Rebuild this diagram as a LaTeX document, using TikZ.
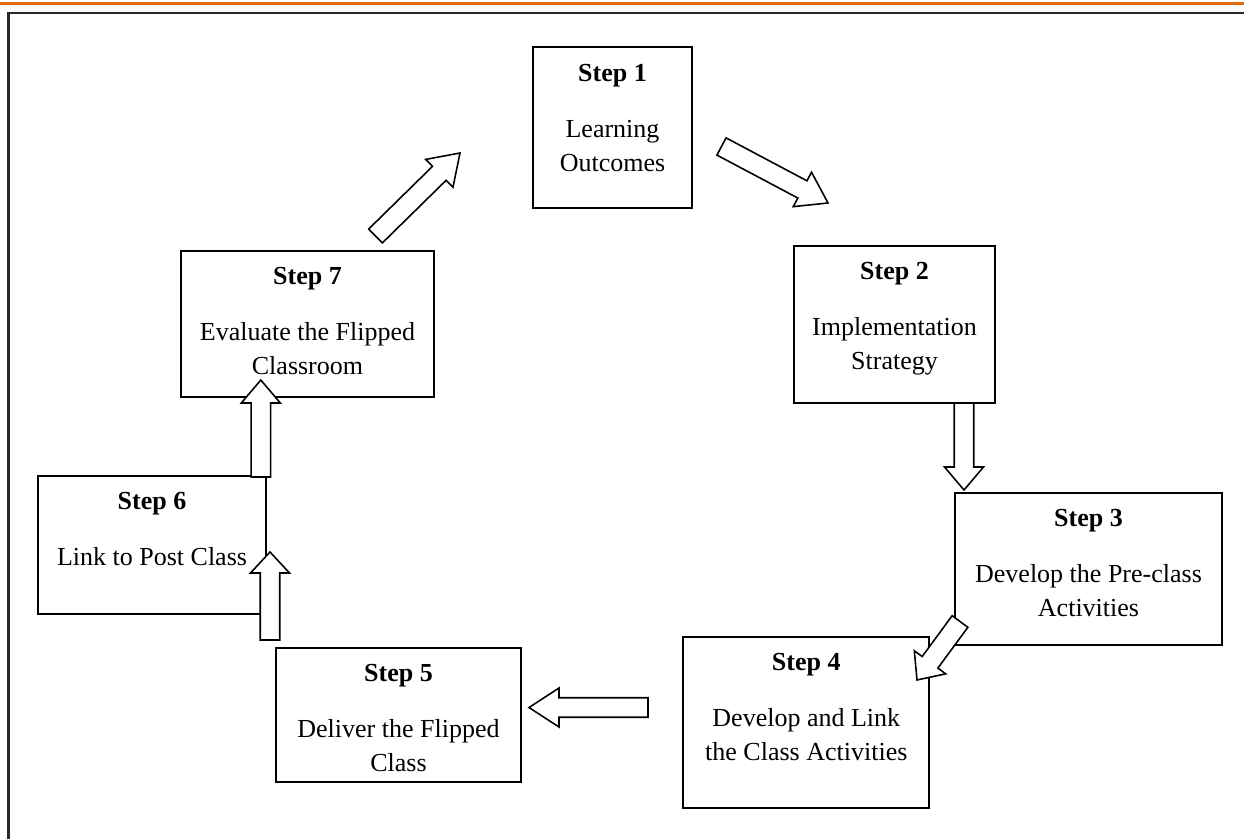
\documentclass[tikz,border=0pt]{standalone}
\usepackage{fontspec}
\setmainfont{Liberation Serif}
\usetikzlibrary{calc,positioning}
\definecolor{barorange}{RGB}{227,108,10}
\definecolor{framegray}{RGB}{40,40,40}

% hollow block arrow from #2 (tail) to #3 (tip), #1 = head length
\def\sw{0.195cm}
\def\hw{0.39cm}
\newcommand{\blockarrow}[3][0.46cm]{%
  \coordinate (hb) at ($(#3)!#1!(#2)$);
  \draw[blockarrow] ($(#2)!\sw!90:(#3)$) -- ($(hb)!\sw!-90:(#2)$)
    -- ($(hb)!\hw!-90:(#2)$) -- (#3) -- ($(hb)!\hw!90:(#2)$)
    -- ($(hb)!\sw!90:(#2)$) -- ($(#2)!\sw!-90:(#3)$) -- cycle;}

\begin{document}
\begin{tikzpicture}[x=0.02cm, y=-0.02cm,
    stepbox/.style={draw, line width=1pt, inner sep=0pt},
    steptext/.style={align=center, inner sep=0pt, font=\fontsize{14.8}{19.4}\selectfont},
    blockarrow/.style={draw, fill=white, line width=0.9pt, line join=miter}]
    \useasboundingbox (0,0) rectangle (1244,839);
    % page frame
    \draw[barorange, line width=0.066cm] (0,3.3) -- (1244,3.3);
    \draw[framegray, line width=1.2pt] (1244,12.6) -- (8.5,12.6) -- (8.5,839);
    % boxes
    \node[stepbox, minimum width=3.17cm, minimum height=3.22cm] (s1) at (612.5,127.8) {};
    \node[stepbox, minimum width=4.02cm, minimum height=3.14cm] (s2) at (894.5,324.5) {};
    \node[stepbox, minimum width=5.34cm, minimum height=3.04cm] (s3) at (1088.5,569) {};
    \node[stepbox, minimum width=4.92cm, minimum height=3.42cm] (s4) at (806.3,722.2) {};
    \node[stepbox, minimum width=4.90cm, minimum height=2.68cm] (s5) at (398.5,715) {};
    \node[stepbox, minimum width=4.55cm, minimum height=2.76cm] (s6) at (152,545) {};
    \node[stepbox, minimum width=5.06cm, minimum height=2.92cm] (s7) at (307.5,324) {};
    % texts
    \node[steptext, below=0.34cm of s1.north] (t1) {\textbf{Step 1}\\[12.5pt]Learning\\Outcomes};
    \node[steptext, below=0.34cm of s2.north] (t2) {\textbf{Step 2}\\[12.5pt]Implementation\\Strategy};
    \node[steptext, below=0.34cm of s3.north] (t3) {\textbf{Step 3}\\[12.5pt]Develop the Pre-class\\Activities};
    \node[steptext, below=0.34cm of s4.north] (t4) {\textbf{Step 4}\\[12.5pt]Develop and Link\\the Class Activities};
    \node[steptext, below=0.34cm of s5.north] (t5) {\textbf{Step 5}\\[12.5pt]Deliver the Flipped\\Class};
    \node[steptext, below=0.34cm of s6.north] (t6) {\textbf{Step 6}\\[12.5pt]Link to Post Class};
    \node[steptext, below=0.34cm of s7.north] (t7) {\textbf{Step 7}\\[12.5pt]Evaluate the Flipped\\Classroom};
    % arrow ends
    \coordinate (a12) at (721.5,146.5);
    \coordinate (b12) at (828,203);
    \coordinate (a23) at (964,403);
    \coordinate (b23) at (964,490);
    \coordinate (a34) at (960,621.5);
    \coordinate (b34) at (917,680);
    \coordinate (a45) at (648,707.5);
    \coordinate (b45) at (529,707.5);
    \coordinate (a56) at (270,640);
    \coordinate (b56) at (270,552);
    \coordinate (a67) at (260.8,477);
    \coordinate (b67) at (260.8,380);
    \coordinate (a71) at (375.5,236);
    \coordinate (b71) at (460,153);
    % arrows
    \blockarrow[0.58cm]{a12}{b12}
    \blockarrow{a23}{b23}
    \blockarrow[0.44cm]{a34}{b34}
    \blockarrow[0.6cm]{a45}{b45}
    \blockarrow[0.42cm]{a56}{b56}
    \blockarrow[0.46cm]{a67}{b67}
    \blockarrow[0.58cm]{a71}{b71}
\end{tikzpicture}
\end{document}
